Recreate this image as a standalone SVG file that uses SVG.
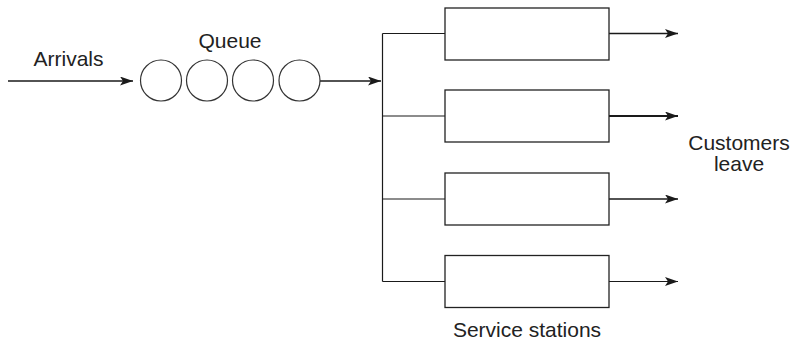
<svg xmlns="http://www.w3.org/2000/svg" width="791" height="345" viewBox="0 0 791 345">
  <style>
    .lbl { font-family: "Liberation Sans", Arial, sans-serif; font-size: 21px; fill: #222; text-anchor: middle; }
    .line { stroke: #1a1a1a; fill: none; }
    .circ { stroke: #333; stroke-width: 1.2; fill: #fff; }
    .box { stroke: #222; stroke-width: 1.3; fill: #fff; }
  </style>
  <defs>
    <marker id="head" viewBox="0 0 13 9" refX="13" refY="4.5" markerWidth="13" markerHeight="9" markerUnits="userSpaceOnUse" orient="auto">
      <path d="M0,0 L13,4.5 L0,9 L3,4.5 z" fill="#1a1a1a"/>
    </marker>
  </defs>

  <g id="connectors">
    <line class="line" x1="8" y1="81" x2="133" y2="81" stroke-width="1.6" marker-end="url(#head)"/>
    <line class="line" x1="320" y1="81" x2="381" y2="81" stroke-width="1.6" marker-end="url(#head)"/>
    <line class="line" x1="382.5" y1="33.5" x2="382.5" y2="281.5" stroke-width="1.2"/>
    <line class="line" x1="382.5" y1="33.5" x2="445" y2="33.5" stroke-width="1.2"/>
    <line class="line" x1="382.5" y1="116" x2="445" y2="116" stroke-width="1.2"/>
    <line class="line" x1="382.5" y1="199" x2="445" y2="199" stroke-width="1.2"/>
    <line class="line" x1="382.5" y1="281.5" x2="445" y2="281.5" stroke-width="1.2"/>
    <line class="line" x1="609" y1="33.5" x2="678" y2="33.5" stroke-width="1.6" marker-end="url(#head)"/>
    <line class="line" x1="609" y1="116" x2="678" y2="116" stroke-width="2.2" marker-end="url(#head)"/>
    <line class="line" x1="609" y1="199" x2="678" y2="199" stroke-width="1.6" marker-end="url(#head)"/>
    <line class="line" x1="609" y1="281.5" x2="678" y2="281.5" stroke-width="1.1" marker-end="url(#head)"/>
  </g>

  <g id="arrivals">
    <text class="lbl" x="68.5" y="66">Arrivals</text>
  </g>

  <g id="queue">
    <text class="lbl" x="230" y="48">Queue</text>
    <circle class="circ" cx="161" cy="80.5" r="20.5"/>
    <circle class="circ" cx="207" cy="80.5" r="20.5"/>
    <circle class="circ" cx="253" cy="80.5" r="20.5"/>
    <circle class="circ" cx="299.5" cy="80.5" r="20.5"/>
  </g>

  <g id="station-1">
    <rect class="box" x="445" y="8" width="164" height="52"/>
  </g>
  <g id="station-2">
    <rect class="box" x="445" y="90" width="164" height="52"/>
  </g>
  <g id="station-3">
    <rect class="box" x="445" y="173" width="164" height="52"/>
  </g>
  <g id="station-4">
    <rect class="box" x="445" y="255.5" width="164" height="52"/>
  </g>

  <g id="service-stations-label">
    <text class="lbl" x="527" y="337">Service stations</text>
  </g>

  <g id="customers-leave">
    <text class="lbl" x="739" y="150">Customers</text>
    <text class="lbl" x="739" y="171">leave</text>
  </g>
</svg>
